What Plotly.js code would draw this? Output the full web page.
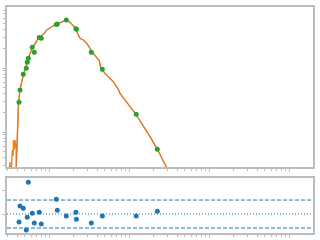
<!DOCTYPE html>
<html><head><meta charset="utf-8">
<script src="https://cdn.plot.ly/plotly-3.0.1.min.js"></script>
<style>html,body{margin:0;padding:0;background:#fff}#chart{width:320px;height:240px}</style>
</head><body><div id="chart"></div>
<script>
// High-resolution model (UV part, spiky)
const uvWave = [0.316, 0.324, 0.330, 0.340, 0.348, 0.355, 0.360, 0.367, 0.376, 0.382, 0.389];
const uvFlux = [0.213, 0.340, 0.255, 0.284, 0.523, 0.422, 0.750, 0.523, 0.750, 0.604, 0.523];
// Smoothed model SED
const modelWave = [0.389, 0.396, 0.404, 0.416, 0.434, 0.453, 0.473, 0.494, 0.516, 0.536, 0.555, 0.579,
  0.608, 0.640, 0.682, 0.735, 0.783, 0.849, 0.936, 1.029, 1.122, 1.248, 1.372, 1.509, 1.631, 1.830,
  2.013, 2.175, 2.323, 2.441, 2.684, 2.960, 3.255, 3.419, 3.758, 4.253, 4.467, 4.775, 5.51, 6.36,
  7.35, 7.72, 12.2, 18.3, 22.6, 30.7];
const modelFlux = [0.274, 0.523, 1.66, 2.84, 4.53, 6.04, 7.50, 8.98, 10.4, 12.4, 14.3, 16.6,
  19.6, 22.1, 24.8, 29.1, 31.0, 33.6, 39.2, 42.6, 45.3, 48.2, 51.4, 54.8, 56.2, 51.8,
  45.8, 41.1, 32.8, 29.1, 27.4, 24.3, 20.3, 17.6, 15.7, 13.0, 9.65, 8.75, 7.31, 6.11,
  4.65, 4.02, 1.89, 0.845, 0.537, 0.255];
// Photometry
const photWave = [0.422, 0.434, 0.477, 0.520, 0.535, 0.551, 0.618, 0.655, 0.756, 0.801,
  1.234, 1.27, 1.645, 2.17, 2.20, 3.38, 4.64, 12.3, 22.6];
const photFlux = [2.91, 4.53, 7.97, 9.89, 12.3, 14.2, 21.1, 17.6, 30.0, 29.2,
  47.8, 48.7, 56.2, 41.1, 40.2, 17.6, 9.55, 1.89, 0.537];
// Residuals (sigma)
const residuals = [-1.71, 1.71, 1.22, -3.43, -0.71, 6.79, 0.15, -1.93, 0.36, -2.14,
  3.15, 0.79, -0.43, 0.36, -1.13, -1.93, -0.43, -0.43, 0.58];
const residBand = 3;

const xMajor = [1, 10, 100, 1000];
const xMinor = [];
[0.1, 1, 10, 100, 1000].forEach(d => { for (let k = 2; k <= 9; k++) xMinor.push(d * k); });
const yMajor = [1, 10];
const yMinor = [];
[0.1, 1, 10].forEach(d => { for (let k = 2; k <= 9; k++) yMinor.push(d * k); });

const frame = '#bdbdbd';
const xaxisBase = {
  type: 'log', range: [-0.525, 3.3], showgrid: false, zeroline: false,
  showline: true, mirror: true, linecolor: frame, linewidth: 2,
  ticks: 'outside', ticklen: 3, tickcolor: frame, tickvals: xMajor, showticklabels: false,
  minor: {ticks: 'outside', ticklen: 2, tickcolor: frame, tickvals: xMinor}
};

const traces = [
  {x: uvWave.concat(modelWave), y: uvFlux.concat(modelFlux), mode: 'lines',
   line: {color: '#ff7f0e', width: 1.4}, xaxis: 'x', yaxis: 'y', hoverinfo: 'skip'},
  {x: modelWave, y: modelFlux, mode: 'lines',
   line: {color: '#c8783c', width: 1}, xaxis: 'x', yaxis: 'y', hoverinfo: 'skip'},
  {x: photWave, y: photFlux, mode: 'markers',
   marker: {color: '#2ca02c', size: 5}, xaxis: 'x', yaxis: 'y'},
  {x: photWave, y: residuals, mode: 'markers',
   marker: {color: '#1f77b4', size: 5}, xaxis: 'x2', yaxis: 'y2'}
];

const layout = {
  width: 320, height: 240, showlegend: false,
  paper_bgcolor: '#fff', plot_bgcolor: '#fff',
  margin: {l: 7, r: 7, t: 7, b: 7},
  xaxis: Object.assign({}, xaxisBase, {anchor: 'y'}),
  xaxis2: Object.assign({}, xaxisBase, {anchor: 'y2'}),
  yaxis: {
    type: 'log', range: [-0.547, 1.953], domain: [0.292, 1], showgrid: false, zeroline: false,
    showline: true, mirror: true, linecolor: frame, linewidth: 2,
    ticks: 'outside', ticklen: 3, tickcolor: frame, tickvals: yMajor, showticklabels: false,
    minor: {ticks: 'outside', ticklen: 2, tickcolor: frame, tickvals: yMinor}
  },
  yaxis2: {
    range: [-4.07, 7.71], domain: [0, 0.243], showgrid: false, zeroline: false,
    showline: true, mirror: true, linecolor: frame, linewidth: 2,
    ticks: 'outside', ticklen: 3, tickcolor: frame, tickvals: [0, 5], showticklabels: false
  },
  shapes: [
    {type: 'line', xref: 'x2 domain', yref: 'y2', x0: 0, x1: 1, y0: residBand, y1: residBand,
     line: {color: '#1f77b4', width: 1, dash: '4px,2px'}},
    {type: 'line', xref: 'x2 domain', yref: 'y2', x0: 0, x1: 1, y0: -residBand, y1: -residBand,
     line: {color: '#1f77b4', width: 1, dash: '4px,2px'}},
    {type: 'line', xref: 'x2 domain', yref: 'y2', x0: 0, x1: 1, y0: 0, y1: 0,
     line: {color: '#1f77b4', width: 1, dash: '1px,2px'}}
  ]
};

Plotly.newPlot('chart', traces, layout, {staticPlot: true, displayModeBar: false});
</script>
</body></html>
